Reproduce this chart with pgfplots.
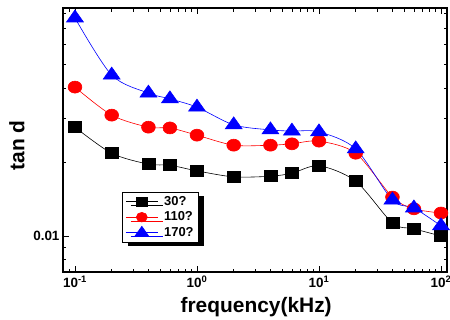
\documentclass[border=0pt]{standalone}
\usepackage{fontspec}
\setmainfont{Liberation Sans}
\usepackage{pgfplots}
\pgfplotsset{compat=1.18}
\usetikzlibrary{shadows}
\begin{document}
\begin{tikzpicture}
\begin{axis}[
  at={(0,0)}, anchor=south west,
  scale only axis, width=384bp, height=264bp,
  xmode=log, ymode=log,
  xmin=0.0798, xmax=112, ymin=0.00714, ymax=0.0845,
  axis line style={line width=1.2pt},
  tick style={black, line width=0.8pt},
  tick align=inside,
  major tick length=6bp, minor tick length=3.5bp,
  xtick={0.1,1,10,100},
  xticklabels={10\textsuperscript{-1},10\textsuperscript{0},10\textsuperscript{1},10\textsuperscript{2}},
  minor xtick={0.09,0.2,0.3,0.4,0.5,0.6,0.7,0.8,0.9,2,3,4,5,6,7,8,9,20,30,40,50,60,70,80,90},
  ytick={0.01}, yticklabels={0.01},
  minor ytick={0.008,0.009,0.02,0.03,0.04,0.05,0.06,0.07,0.08},
  ticklabel style={font=\bfseries\fontsize{13.5}{15}\selectfont},
  xlabel={frequency(kHz)}, ylabel={tan d},
  label style={font=\bfseries\fontsize{21}{24}\selectfont},
  xlabel style={at={(axis description cs:0.503,-0.152)}, anchor=base},
  ylabel style={at={(axis description cs:-0.12,0.48)}, anchor=center},
  legend style={at={(axis description cs:0.154,0.303)}, anchor=north west, draw=black, line width=0.8pt,
    font=\bfseries\fontsize{13}{15}\selectfont, inner xsep=3pt, inner ysep=2pt, row sep=1pt, column sep=4pt, cells={anchor=west},
    general shadow={fill=black, shadow xshift=5bp, shadow yshift=-4bp}},
  legend image code/.code={\draw[mark repeat=2,mark phase=2,every mark/.append style={scale=0.8}] plot coordinates {(0bp,0bp) (16bp,0bp) (32bp,0bp)};},
]
\addplot[black, line width=0.6pt, smooth, mark=square*, mark size=5.5bp, mark options={solid, fill=black, xscale=1.18}] coordinates {
(0.1,0.0277)(0.2,0.0217)(0.4,0.0196)(0.6,0.0194)(1,0.0184)(2,0.0174)(4,0.0175)(6,0.0180)(10,0.0193)(20,0.0167)(40,0.0113)(60,0.0107)(100,0.0100)};
\addlegendentry{30?}
\addplot[red, line width=0.6pt, smooth, mark=*, mark size=6bp, mark options={solid, fill=red, xscale=1.15}] coordinates {
(0.1,0.0403)(0.2,0.0310)(0.4,0.0277)(0.6,0.0275)(1,0.0257)(2,0.0234)(4,0.0234)(6,0.0237)(10,0.0243)(20,0.0217)(40,0.0144)(60,0.0129)(100,0.0124)};
\addlegendentry{110?}
\addplot[blue, line width=0.6pt, smooth, mark=triangle*, mark size=8bp, mark options={solid, fill=blue, xscale=1.22}] coordinates {
(0.1,0.0770)(0.2,0.0451)(0.4,0.0381)(0.6,0.0361)(1,0.0334)(2,0.0283)(4,0.0270)(6,0.0267)(10,0.0265)(20,0.0226)(40,0.0140)(60,0.0130)(100,0.0110)};
\addlegendentry{170?}
\end{axis}
\pgfresetboundingbox
\path[use as bounding box] (-63bp,-48bp) rectangle (387bp,272bp);
\end{tikzpicture}
\end{document}
